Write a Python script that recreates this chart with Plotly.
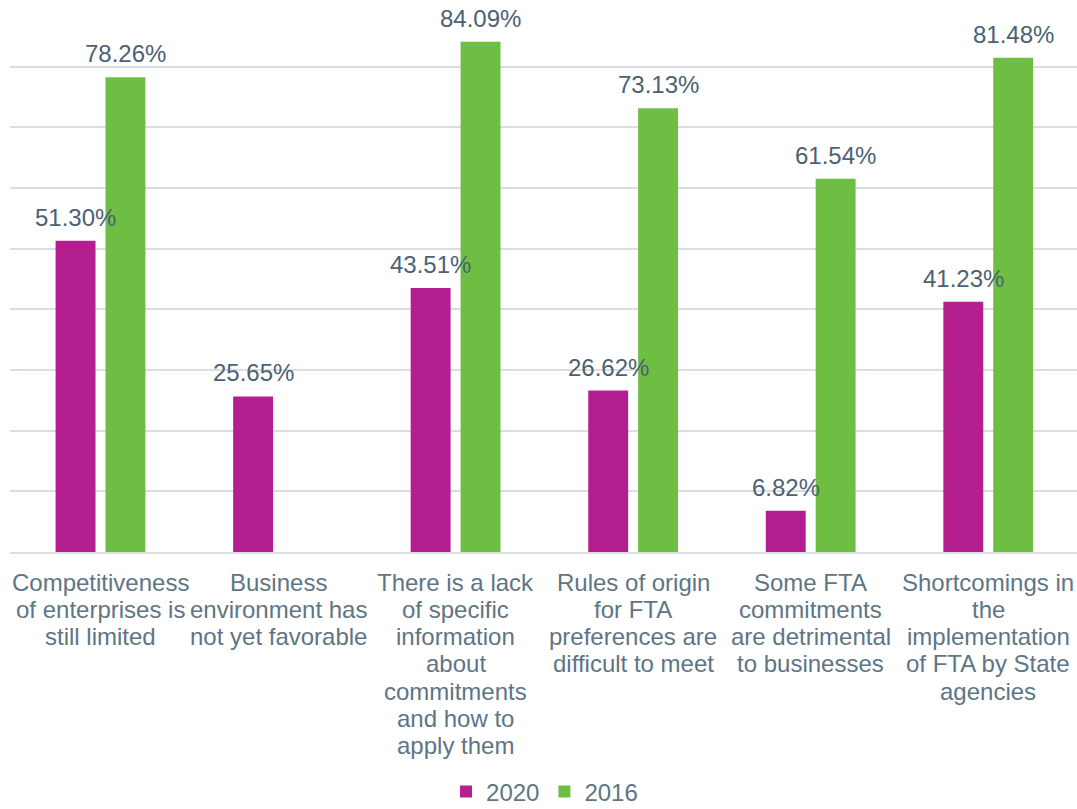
import plotly.graph_objects as go

categories = [
    "Competitiveness<br>of enterprises is<br>still limited",
    "Business<br>environment has<br>not yet favorable",
    "There is a lack<br>of specific<br>information<br>about<br>commitments<br>and how to<br>apply them",
    "Rules of origin<br>for FTA<br>preferences are<br>difficult to meet",
    "Some FTA<br>commitments<br>are detrimental<br>to businesses",
    "Shortcomings in<br>the<br>implementation<br>of FTA by State<br>agencies",
]
values_2020 = [51.30, 25.65, 43.51, 26.62, 6.82, 41.23]
values_2016 = [78.26, None, 84.09, 73.13, 61.54, 81.48]

C2020 = "#B51E8E"
C2016 = "#6EBE44"
TICK_COLOR = "#5E7585"
LABEL_COLOR = "#4C6172"
FONT = "Liberation Sans, Arial, sans-serif"
FS = 24

fig = go.Figure()
fig.add_trace(go.Bar(name="2020", x=categories, y=values_2020, marker_color=C2020,
                     marker_line_width=0))
fig.add_trace(go.Bar(name="2016", x=categories, y=values_2016, marker_color=C2016,
                     marker_line_width=0))

# value labels centred above each bar
for vals, shift in ((values_2020, -25), (values_2016, 25)):
    for cat, v in zip(categories, vals):
        if v is None:
            continue
        fig.add_annotation(x=cat, y=v, text=f"{v:.2f}%", showarrow=False,
                           xshift=shift, yshift=8, yanchor="bottom",
                           font=dict(family=FONT, size=FS, color=LABEL_COLOR))

# category labels, one line at a time for tighter line spacing
for cat in categories:
    for i, line in enumerate(cat.split("<br>")):
        fig.add_annotation(x=cat, y=0, text=line, showarrow=False,
                           yshift=-(30 + 27.3 * i), yanchor="middle",
                           font=dict(family=FONT, size=FS, color=TICK_COLOR))

fig.update_layout(
    width=1077, height=809,
    margin=dict(l=10, r=0, t=6, b=257, autoexpand=False),
    paper_bgcolor="white", plot_bgcolor="white",
    barmode="group", bargap=0.438, bargroupgap=0.2,
    font=dict(family=FONT, size=FS, color=TICK_COLOR),
    legend=dict(orientation="h", x=0.5056, xanchor="center", xref="container",
                y=0.021, yanchor="middle", yref="container",
                font=dict(size=FS, color=TICK_COLOR), itemwidth=30, traceorder="normal"),
    showlegend=True,
)
fig.update_xaxes(showline=True, linecolor="#D9DEE4", linewidth=1.5, ticks="",
                 showticklabels=False)
fig.update_yaxes(range=[0, 90], dtick=10, showgrid=True, gridcolor="#D9DEE4",
                 gridwidth=1.5, showticklabels=False, zeroline=False)

fig.write_html("out.html")
